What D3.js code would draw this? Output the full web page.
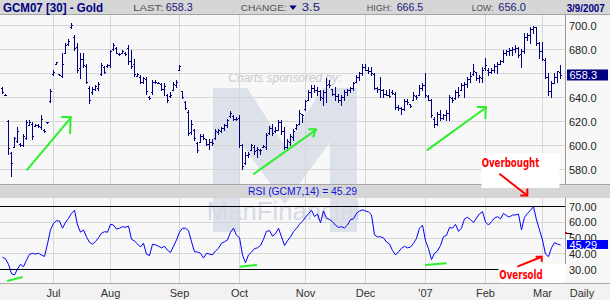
<!DOCTYPE html>
<html>
<head>
<meta charset="utf-8">
<script src="https://cdn.jsdelivr.net/npm/d3@7"></script>
<style>
  html, body { margin: 0; padding: 0; background: #f8f8f8; }
  svg { display: block; font-family: Arial, "Liberation Sans", sans-serif; }
</style>
</head>
<body>
<div id="chart"></div>
<script>
// daily OHLC bars, GCM07, Jun 2006 - 9 Mar 2007 (one entry per trading day)
const barHigh = [
  648.6, 642.5, 620.8, 594.4, 606.9, 615.3, 601.9, 609.7, 620.8, 620.8,
  619.4, 618, 618, 625, 613.9, 619.4, 647.2, 662.5, 669.4, 659.2,
  676.4, 684.7, 688, 701.4, 691.7, 684.7, 676.4, 676.4, 668, 649.2,
  648.6, 650, 652.8, 668.6, 665.8, 668, 679.2, 684.7, 681.9, 676.4,
  679.2, 677.8, 683.3, 679.2, 671.4, 660.3, 658.3, 656.9, 656.9, 640.8,
  654.7, 654.2, 652.8, 651.9, 651.4, 643, 644.4, 652.8, 654.2, 666.7,
  645.3, 636.7, 629.2, 620.8, 613.9, 602.8, 609.7, 609.7, 605.6, 605.6,
  605.6, 613.9, 613.9, 615.3, 618, 622.2, 628.6, 625, 623.6, 625,
  601.4, 594.4, 594.4, 601.4, 600, 598.6, 597.2, 600, 610.3, 615.8,
  617.5, 615.3, 620.8, 620.8, 615.3, 605.6, 609.7, 613.9, 618, 629.2,
  626.4, 638, 645.8, 650, 650, 648.6, 645.8, 645.8, 655.6, 654.2,
  647.2, 648.6, 643, 641.7, 645.8, 647.2, 648.6, 652.8, 658.3, 661.1,
  668, 668, 665.3, 665.3, 659.7, 648.6, 656.9, 647.2, 645.8, 647.2,
  645.8, 644.4, 633.3, 631.9, 638.9, 638.9, 634.7, 644.4, 641.7, 650,
  651.4, 659.7, 641.7, 638.9, 623.6, 627.8, 629.2, 626.4, 629.2, 641.7,
  640.3, 645.8, 648.6, 651.4, 652.8, 656.9, 661.1, 668, 661.1, 658.3,
  665.3, 672.2, 663.9, 663.9, 668, 669.4, 670.8, 679.2, 679.2, 680.6,
  681.9, 683.3, 681.9, 680, 693, 693, 698.6, 699.2, 698.6, 686.1,
  686.1, 672.2, 659.7, 653.3, 659.7, 662, 666.5
];
const barLow = [
  643.6, 641.5, 593, 574.2, 598.6, 602.8, 599.2, 599.2, 605.6, 616.7,
  605.6, 615.8, 615.3, 613.9, 611.1, 618.6, 636.1, 658.3, 667.5, 658.3,
  657, 676.4, 683.3, 697.2, 679.2, 661.1, 655.6, 665.3, 651.4, 635.3,
  643, 645.8, 645.8, 658.3, 659.7, 665.3, 665.3, 679.2, 676.4, 675,
  676.4, 675, 668, 663.9, 657.5, 657.5, 651.9, 651.9, 643, 638.9,
  643, 651.9, 651.4, 645.8, 641.7, 636.1, 640.3, 645.8, 648.6, 662.5,
  639.7, 630.6, 608.3, 609.7, 604.2, 594.4, 602.8, 605.6, 600, 597.2,
  600, 605.6, 609.7, 611.1, 612.5, 615.3, 623.6, 620.8, 620.8, 598.6,
  580.6, 584.7, 590.3, 595.8, 593, 590.3, 593, 598.6, 597.2, 609.7,
  608.3, 611.1, 612.5, 609.7, 597.2, 597.2, 600, 604.2, 613.9, 618,
  619.4, 629.2, 637.5, 640.3, 644.4, 641.7, 637.5, 633.3, 636.1, 648.6,
  641.7, 637.5, 636.1, 633.3, 637.5, 641.7, 644.4, 645.8, 652.8, 654.2,
  658.3, 662.5, 659.7, 658.3, 647.2, 644.4, 640.3, 640.3, 641.7, 640.3,
  643, 630.6, 629.2, 626.4, 629.2, 634.7, 631.9, 637.5, 638.9, 641.7,
  645.8, 640.3, 637.5, 623.6, 615.3, 616.7, 620.8, 622.2, 620.8, 620.8,
  636.1, 638.9, 640.3, 645.8, 640.3, 648.6, 652.8, 658.3, 654.2, 652.8,
  652.8, 662.5, 658.3, 659.7, 661.1, 659.7, 668, 669.4, 675, 675,
  675, 677.8, 673.6, 665.3, 676.4, 687.5, 684.7, 693, 683.3, 672.2,
  670.8, 655.6, 641.7, 640.3, 651.4, 652.8, 656
];
const barOpen = [
  648, 642, 620, 594, 599, 604, 601, 600, 606, 617,
  618, 616, 617, 615, 613, 619, 637, 659, 668, 659,
  658, 677, 684, 698, 690, 682, 664, 672, 666, 648,
  644, 647, 648, 659, 665, 666, 667, 680, 681, 676,
  677, 677, 681, 670, 668, 658, 657, 653, 655, 640,
  644, 653, 652, 651, 647, 642, 641, 646, 650, 663,
  645, 636, 628, 611, 613, 602, 603, 608, 605, 601,
  603, 606, 611, 612, 614, 617, 624, 624, 622, 623,
  600, 585, 592, 596, 599, 596, 596, 599, 599, 610,
  614, 612, 613, 619, 612, 599, 603, 607, 614, 618,
  626, 630, 638, 644, 648, 646, 645, 639, 644, 651,
  647, 643, 641, 638, 640, 644, 646, 648, 653, 657,
  660, 665, 663, 662, 659, 648, 647, 646, 643, 642,
  644, 643, 632, 631, 630, 637, 634, 638, 641, 642,
  648, 650, 641, 638, 622, 618, 626, 623, 625, 627,
  639, 639, 644, 646, 650, 651, 655, 659, 661, 656,
  656, 664, 663, 661, 663, 666, 668, 670, 677, 678,
  679, 680, 681, 676, 678, 690, 692, 697, 698, 685,
  678, 671, 657, 645, 652, 657, 661
];
const barClose = [
  644, 642, 598, 585, 606, 612, 600, 608, 619, 619,
  608, 617, 616, 622, 612, 619, 645, 661, 669, 658.5,
  668, 683, 687, 700, 681, 663, 672, 667, 653, 638,
  647, 649, 651, 667, 661, 667, 678, 683, 677, 675.5,
  678, 676, 670, 666, 659, 659, 653, 656, 645, 639.5,
  653, 652.5, 652, 647, 649, 638, 642, 651, 653, 666,
  640, 631, 610, 618, 606, 596, 608, 606, 601, 603,
  602, 612, 613, 614, 617, 621, 627, 622, 621.5, 600,
  583, 592, 593, 600, 595, 597, 596, 599.5, 609, 614,
  610, 613, 619, 612, 599, 604, 608, 612, 617, 627,
  625, 637, 644, 648, 646, 645, 640, 644, 650, 650,
  643, 641, 638, 640, 644, 646, 648, 652, 657, 660,
  665, 663, 662, 660, 648, 647, 646, 643, 642, 641,
  643.5, 632, 631, 630, 637, 636, 633, 642, 640, 648,
  650, 642, 638, 625, 618, 626, 623, 625, 627, 640,
  638, 644, 642, 650, 651, 655, 658, 662, 656, 657,
  663, 667, 661, 663, 666, 668, 670, 677, 678, 679,
  680, 681, 675, 678, 690, 692, 697, 698, 685, 678,
  672, 657, 645, 652, 657, 661.8, 658.3
];
// RSI(14) per bar
const rsiValues = [
  37.5, 36.5, 33, 27, 26.2, 30, 33, 31.5, 35.7, 39.4,
  40, 39.5, 40, 38.9, 38, 46, 55, 59.1, 60.8, 60.6,
  56, 59.8, 62.3, 65.5, 67.5, 58, 53.5, 54.9, 50.5, 47,
  45.8, 47.5, 50, 52.8, 53.8, 53.5, 58.5, 58, 55.5, 56,
  57, 56.6, 57.4, 49, 47.8, 46, 44, 46.4, 39.5, 38.5,
  45.8, 45.4, 44.5, 43.5, 44.5, 42, 40.5, 44.5, 48.5, 53.5,
  56, 56, 54.5, 47.4, 41, 40.9, 40, 37, 40, 39.5,
  39, 41.5, 43.2, 46.5, 47.4, 48.5, 53.5, 56, 51.5, 50,
  38.9, 34, 39, 40.8, 43, 43.5, 45, 49, 54, 54.5,
  51, 52.5, 56, 50.5, 45, 48, 50.5, 53.8, 56, 58.5,
  60.5, 63, 65.3, 67.5, 63.5, 65, 59.5, 67, 62.5, 61.5,
  60.2, 58, 56.5, 57, 56.2, 58.1, 61.5, 62, 65.5, 67,
  67.7, 67, 66.4, 64.5, 51.8, 50.5, 50.6, 49.8, 47.2, 46,
  41.8, 39, 41, 43.2, 44.5, 43.5, 44, 46.4, 49.5, 56,
  58, 48, 43, 36, 40, 41.5, 45, 50.6, 51.5, 56.5,
  56, 58.5, 54, 56, 62, 63, 61.5, 59.6, 62.5, 65.2,
  66.6, 60, 58, 60.2, 62.5, 63.4, 62, 65.5, 64, 63.2,
  64.4, 64.5, 65, 55, 63, 65.5, 67.5, 69.7, 61.3, 54.9,
  48.5, 39.5, 37.9, 43.5, 46.8, 45.9, 45.29
];

const monthLabels = ["Jul", "Aug", "Sep", "Oct", "Nov", "Dec", "'07", "Feb", "Mar"];
const monthStartBar = [17, 36, 59, 79, 101, 121, 141, 161, 180];
const priceTicks = [580, 600, 620, 640, 660, 680, 700];
const rsiTicks = [30, 40, 50, 60, 70];

const quote = { symbol: "GCM07 [30] - Gold", last: "658.3", change: "3.5", high: "666.5", low: "656.0", date: "3/9/2007" };
const rsiLast = 45.29;

// hand-drawn annotations (bar index, price / rsi)
const trendArrows = [
  { from: [8.2, 579.2], to: [23.2, 623.6], head: [[-10.5, 0], [-1.5, 17]] },
  { from: [83.7, 575.8], to: [104.9, 613.3], head: [[-8.5, 0], [-3.5, 8]] },
  { from: [141.6, 595.8], to: [161.6, 631.9], head: [[-10, 0], [-1.5, 12]] }
];
const rsiMarks = [
  { from: [1.7, 22.3], to: [6.9, 24.9] },
  { from: [79.3, 31.5], to: [85, 32.6] },
  { from: [141, 32.6], to: [148.2, 33.6] }
];

const svgWidth = 610, svgHeight = 300;
const plotRight = 565;
const mainTop = 15, mainBottom = 184;
const rsiTop = 198, rsiBottom = 283;

const svg = d3.select("#chart").append("svg")
  .attr("width", svgWidth)
  .attr("height", svgHeight);

const x = d3.scaleLinear().domain([0, barHigh.length - 1]).range([2, 2 + 3 * (barHigh.length - 1)]);
const y = d3.scaleLinear().domain([580, 700]).range([169.4, 25]);
const yRsi = d3.scaleLinear().domain([30, 70]).range([269, 206.3]);
const px = v => Math.round(v) + 0.5;

svg.append("rect").attr("width", svgWidth).attr("height", svgHeight).attr("fill", "#f8f8f8");

// sponsor watermark
const wm = svg.append("g");
wm.append("path")
  .attr("d", "M213,88 H247 L285,146 L323,88 H357 V232 H330 V142 L285,204 L240,142 V232 H213 Z")
  .attr("fill", "#dde1ea");
wm.append("text")
  .attr("x", 228.3).attr("y", 81.5)
  .attr("font-size", 13).attr("font-style", "italic")
  .attr("fill", "#cacaca")
  .attr("textLength", 113).attr("lengthAdjust", "spacingAndGlyphs")
  .text("Charts sponsored by:");

// grid
const grid = svg.append("g").attr("stroke", "#d6d6d6").attr("shape-rendering", "crispEdges");
grid.selectAll(".hg").data(priceTicks).enter().append("line")
  .attr("x1", 0).attr("x2", plotRight)
  .attr("y1", d => px(y(d))).attr("y2", d => px(y(d)));
grid.selectAll(".vg").data(monthStartBar).enter().append("line")
  .attr("x1", d => px(x(d))).attr("x2", d => px(x(d)))
  .attr("y1", mainTop).attr("y2", mainBottom);
grid.selectAll(".vr").data(monthStartBar).enter().append("line")
  .attr("x1", d => px(x(d))).attr("x2", d => px(x(d)))
  .attr("y1", rsiTop).attr("y2", rsiBottom);
grid.selectAll(".hr").data([40, 50, 60]).enter().append("line")
  .attr("x1", 0).attr("x2", plotRight)
  .attr("y1", d => px(yRsi(d))).attr("y2", d => px(yRsi(d)));

svg.append("text")
  .attr("x", 206.7).attr("y", 219.5)
  .attr("font-size", 26)
  .attr("fill", "#d6dae4")
  .attr("textLength", 153).attr("lengthAdjust", "spacingAndGlyphs")
  .text("ManFinancial");

// price bars
const bars = svg.append("g").attr("fill", "#000080").attr("shape-rendering", "crispEdges");
barHigh.forEach((hi, i) => {
  const bx = Math.round(x(i));
  const top = Math.round(y(hi));
  const bottom = Math.round(y(barLow[i]));
  bars.append("rect").attr("x", bx).attr("y", top).attr("width", 1).attr("height", Math.max(1, bottom - top + 1));
  bars.append("rect").attr("x", bx - 1).attr("y", Math.round(y(barOpen[i]))).attr("width", 1).attr("height", 1);
  bars.append("rect").attr("x", bx + 1).attr("y", Math.round(y(barClose[i]))).attr("width", 1).attr("height", 1);
});

// RSI panel
svg.selectAll(".rsiband").data([70, 30]).enter().append("line")
  .attr("x1", 0).attr("x2", plotRight)
  .attr("y1", d => px(yRsi(d))).attr("y2", d => px(yRsi(d)))
  .attr("stroke", "#000").attr("shape-rendering", "crispEdges");

const rsiLine = d3.line().x((d, i) => x(i) + 0.5).y(d => yRsi(d));
svg.append("path")
  .datum(rsiValues)
  .attr("d", rsiLine)
  .attr("fill", "none")
  .attr("stroke", "#0000ff")
  .attr("stroke-width", 1);

// green trend arrows
const green = svg.append("g").attr("stroke", "#2cf02c").attr("stroke-width", 2).attr("fill", "none");
trendArrows.forEach(a => {
  const x0 = x(a.from[0]), y0 = y(a.from[1]);
  const x1 = x(a.to[0]), y1 = y(a.to[1]);
  green.append("line").attr("x1", x0).attr("y1", y0).attr("x2", x1).attr("y2", y1);
  green.append("path").attr("d", `M${x1 + a.head[0][0]},${y1 + a.head[0][1]}H${x1}M${x1 - 1},${y1}L${x1 + a.head[1][0]},${y1 + a.head[1][1]}`);
});
rsiMarks.forEach(m => {
  green.append("line")
    .attr("x1", x(m.from[0])).attr("y1", yRsi(m.from[1]))
    .attr("x2", x(m.to[0])).attr("y2", yRsi(m.to[1]));
});

// header bar
svg.append("rect").attr("x", 0).attr("y", 0).attr("width", svgWidth).attr("height", 14).attr("fill", "#d6d6d6");
svg.append("line").attr("x1", 0).attr("x2", svgWidth).attr("y1", 14.5).attr("y2", 14.5).attr("stroke", "#a4a4a4");
const head = svg.append("g");
head.append("text").attr("x", 3).attr("y", 11.5)
  .attr("font-size", 12.5).attr("font-weight", "bold").attr("fill", "#000080")
  .attr("textLength", 100).attr("lengthAdjust", "spacingAndGlyphs")
  .text(quote.symbol);
const headItems = [
  { label: "LAST:", lx: 133.3, lw: 30, value: quote.last, vx: 165.7, vw: 27 },
  { label: "CHANGE:", lx: 240.7, lw: 46, value: quote.change, vx: 301.7, vw: 18.3 },
  { label: "HIGH:", lx: 366.7, lw: 25, value: quote.high, vx: 396.7, vw: 26.6 },
  { label: "LOW:", lx: 471.7, lw: 21.6, value: quote.low, vx: 498.3, vw: 27.7 }
];
headItems.forEach(h => {
  head.append("text").attr("x", h.lx).attr("y", 11).attr("font-size", 9.5).attr("fill", "#505050")
    .attr("textLength", h.lw).attr("lengthAdjust", "spacingAndGlyphs").text(h.label);
  head.append("text").attr("x", h.vx).attr("y", 11).attr("font-size", 10.5).attr("fill", "#1a1a78")
    .attr("textLength", h.vw).attr("lengthAdjust", "spacingAndGlyphs").text(h.value);
});
head.append("path").attr("d", "M289.3,5.5 H296.7 L293,10 Z").attr("fill", "#000080");
head.append("text").attr("x", 566.7).attr("y", 11.5)
  .attr("font-size", 11).attr("font-weight", "bold").attr("fill", "#000080")
  .attr("textLength", 38).attr("lengthAdjust", "spacingAndGlyphs")
  .text(quote.date);

// RSI title bar
svg.append("rect").attr("x", 0).attr("y", mainBottom).attr("width", svgWidth).attr("height", rsiTop - mainBottom).attr("fill", "#d6d6d6");
svg.append("line").attr("x1", 0).attr("x2", svgWidth).attr("y1", mainBottom + 0.5).attr("y2", mainBottom + 0.5).attr("stroke", "#a4a4a4");
svg.append("text").attr("x", 248).attr("y", 195)
  .attr("font-size", 11).attr("fill", "#1010e0")
  .attr("textLength", 109).attr("lengthAdjust", "spacingAndGlyphs")
  .text(`RSI (GCM7,14) = ${rsiLast.toFixed(2)}`);

// bottom axis band
svg.append("rect").attr("x", 0).attr("y", rsiBottom).attr("width", svgWidth).attr("height", svgHeight - rsiBottom).attr("fill", "#f2f2f2");
svg.append("line").attr("x1", 0).attr("x2", svgWidth).attr("y1", rsiBottom + 0.5).attr("y2", rsiBottom + 0.5).attr("stroke", "#a8a8a8");
svg.selectAll(".ml").data(monthLabels).enter().append("text")
  .attr("x", (d, i) => x(monthStartBar[i]) + 0.5)
  .attr("y", 296.5)
  .attr("text-anchor", "middle")
  .attr("font-size", 11).attr("fill", "#333")
  .text(d => d);
svg.append("text").attr("x", 582).attr("y", 296.5).attr("text-anchor", "middle")
  .attr("font-size", 11).attr("fill", "#333").text("Daily");

// annotation boxes
svg.append("rect").attr("x", 481.5).attr("y", 153).attr("width", 78).attr("height", 35).attr("fill", "#ffffff");
svg.append("rect").attr("x", 498.5).attr("y", 264).attr("width", 67.5).attr("height", 19).attr("fill", "#ffffff");
const red = svg.append("g").attr("fill", "#ff0000").attr("font-size", 13).attr("font-weight", "bold")
  .attr("font-family", "'DejaVu Sans Condensed', 'Liberation Sans Narrow', Arial, sans-serif");
red.append("text").attr("x", 481.7).attr("y", 166.5)
  .attr("textLength", 57.6).attr("lengthAdjust", "spacingAndGlyphs").text("Overbought");
red.append("text").attr("x", 499.3).attr("y", 279)
  .attr("textLength", 43.4).attr("lengthAdjust", "spacingAndGlyphs").text("Oversold");
const redArrows = svg.append("g").attr("stroke", "#ff0000").attr("stroke-width", 2).attr("fill", "none");
{
  const ax0 = x(165.8), ay0 = y(576.4), ax1 = x(175.1), ay1 = y(558.3);
  redArrows.append("line").attr("x1", ax0).attr("y1", ay0).attr("x2", ax1).attr("y2", ay1);
  redArrows.append("path").attr("d", `M${ax1 - 7},${ay1}H${ax1}V${ay1 - 7}`);
  const bx0 = x(171.8), by0 = yRsi(31.5), bx1 = x(179.9), by1 = yRsi(37.8);
  redArrows.append("line").attr("x1", bx0).attr("y1", by0).attr("x2", bx1).attr("y2", by1);
  redArrows.append("path").attr("d", `M${bx1 - 6},${by1}H${bx1}V${by1 + 5}`);
}

// right axis
const axisG = svg.append("g").attr("shape-rendering", "crispEdges");
axisG.append("line").attr("x1", plotRight + 0.5).attr("x2", plotRight + 0.5).attr("y1", mainTop).attr("y2", mainBottom).attr("stroke", "#9a9a9a");
axisG.append("line").attr("x1", plotRight + 0.5).attr("x2", plotRight + 0.5).attr("y1", rsiTop).attr("y2", 264).attr("stroke", "#9a9a9a");

svg.selectAll(".pl").data(priceTicks).enter().append("text")
  .attr("x", 569).attr("y", d => y(d) + 4.5)
  .attr("font-size", 11).attr("fill", "#222")
  .text(d => d3.format(".1f")(d));
svg.selectAll(".rl").data(rsiTicks).enter().append("text")
  .attr("x", 569).attr("y", d => yRsi(d) + 4.5)
  .attr("font-size", 11).attr("fill", "#222")
  .text(d => d3.format(".2f")(d));

// last value boxes
const lastClose = barClose[barClose.length - 1];
svg.append("rect").attr("x", 567).attr("y", Math.round(y(lastClose)) - 5.5).attr("width", 41).attr("height", 11).attr("fill", "#000080");
svg.append("text").attr("x", 569.5).attr("y", Math.round(y(lastClose)) + 4)
  .attr("font-size", 11).attr("fill", "#fff").text(lastClose.toFixed(1));
svg.append("rect").attr("x", 567).attr("y", Math.round(yRsi(rsiLast)) - 5).attr("width", 41).attr("height", 9).attr("fill", "#0000ff");
svg.append("text").attr("x", 569.5).attr("y", Math.round(yRsi(rsiLast)) + 3.5)
  .attr("font-size", 11).attr("fill", "#fff").text(rsiLast.toFixed(2));
svg.append("line").attr("x1", 566).attr("x2", 572).attr("y1", 233.5).attr("y2", 233.5).attr("stroke", "#000");
svg.append("rect").attr("x", 565).attr("y", 232).attr("width", 2).attr("height", 2).attr("fill", "#ff0000");
</script>
</body>
</html>
